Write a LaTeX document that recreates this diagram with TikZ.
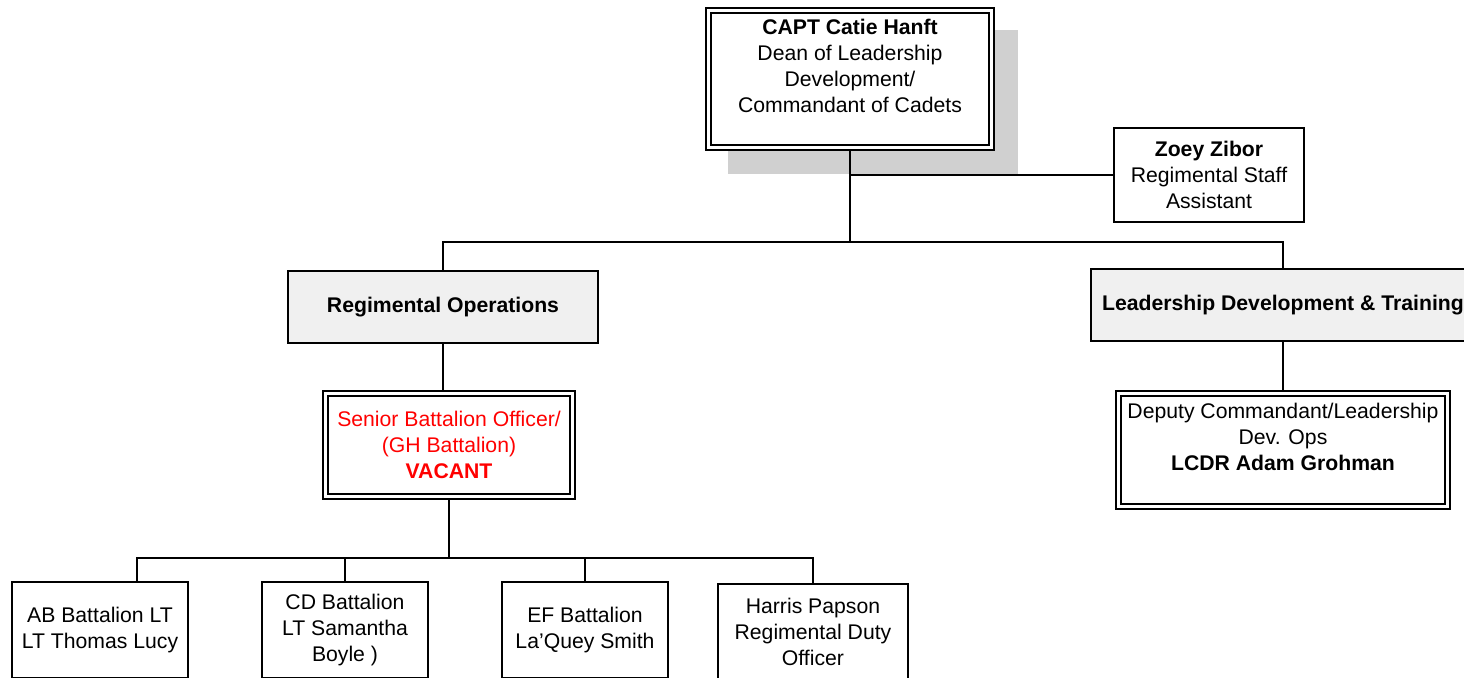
\documentclass[tikz,border=0pt]{standalone}
\usepackage{fontspec}
\setmainfont{Liberation Sans}
\usepackage{tikz}
\usetikzlibrary{backgrounds}
\definecolor{shadowgray}{RGB}{208,208,208}
\definecolor{headgray}{RGB}{240,240,240}
\definecolor{vacant}{RGB}{255,0,0}

\begin{document}
\begin{tikzpicture}[x=0.5pt,y=-0.5pt,
    every node/.style={font=\fontsize{10.6}{13}\selectfont, align=center, inner sep=0pt},
    box/.style={draw, line width=1pt, fill=white},
    dbox/.style={draw, line width=1pt, double, double distance=1.5pt, fill=white, outer sep=1.75pt},
    head/.style={draw, line width=1pt, fill=headgray, font=\fontsize{10.6}{13}\selectfont\bfseries},
    link/.style={line width=1pt}]
\useasboundingbox (0,0) rectangle (1464,677);
\clip (0,0) rectangle (1464,677);
    \node[dbox, minimum width=141.5pt, minimum height=68.5pt] (Dean) at (850,79) {\textbf{CAPT Catie Hanft}\\Dean of Leadership\\Development/\\Commandant of Cadets\\~};
    \node[box, minimum width=95pt, minimum height=47pt] (Staff) at (1209,175) {\textbf{Zoey Zibor}\\Regimental Staff\\Assistant};
    \node[head, minimum width=155pt, minimum height=36pt] (RegOps) at (443,307) {Regimental Operations};
    \node[head, minimum width=192pt, minimum height=36pt] (LeadDev) at (1283,305) {Leadership Development \& Training};
    \node[dbox, minimum width=123.5pt, minimum height=51.5pt, text=vacant] (SBO) at (449,445) {Senior Battalion Officer/\\(GH Battalion)\\\textbf{VACANT}};
    \node[dbox, minimum width=164.5pt, minimum height=56.5pt] (Deputy) at (1283,450) {Deputy Commandant/Leadership\\Dev. Ops\\\textbf{LCDR Adam Grohman}\\~};
    \node[box, minimum width=88pt, minimum height=48pt] (AB) at (100,630) {AB Battalion LT\\LT Thomas Lucy};
    \node[box, minimum width=83pt, minimum height=48pt] (CD) at (345,630) {CD Battalion\\LT Samantha\\Boyle )};
    \node[box, minimum width=83pt, minimum height=48pt] (EF) at (585,630) {EF Battalion\\La'Quey Smith};
    \node[box, minimum width=95pt, minimum height=48pt] (Duty) at (813,632) {Harris Papson\\Regimental Duty\\Officer};
    \begin{scope}[on background layer]
    \fill[shadowgray] ([shift={(23,23)}]Dean.north west) rectangle ([shift={(23,23)}]Dean.south east);
    \end{scope}
    \coordinate (Bus1) at (850,242);
    \coordinate (Bus2) at (449,558);
    \coordinate (ABdrop) at ([xshift=18.5pt]AB.north);
    \draw[link] (Dean.south) |- (Staff.west);
    \draw[link] (Dean.south) -- (Bus1);
    \draw[link] (RegOps.north) |- (Bus1) -| (LeadDev.north);
    \draw[link] (RegOps.south) -- (RegOps.south |- SBO.north);
    \draw[link] (LeadDev.south) -- (Deputy.north);
    \draw[link] (SBO.south) -- (Bus2);
    \draw[link] (ABdrop) |- (Bus2) -| (Duty.north);
    \draw[link] (CD.north) -- (CD.north |- Bus2);
    \draw[link] (EF.north) -- (EF.north |- Bus2);
\end{tikzpicture}
\end{document}
